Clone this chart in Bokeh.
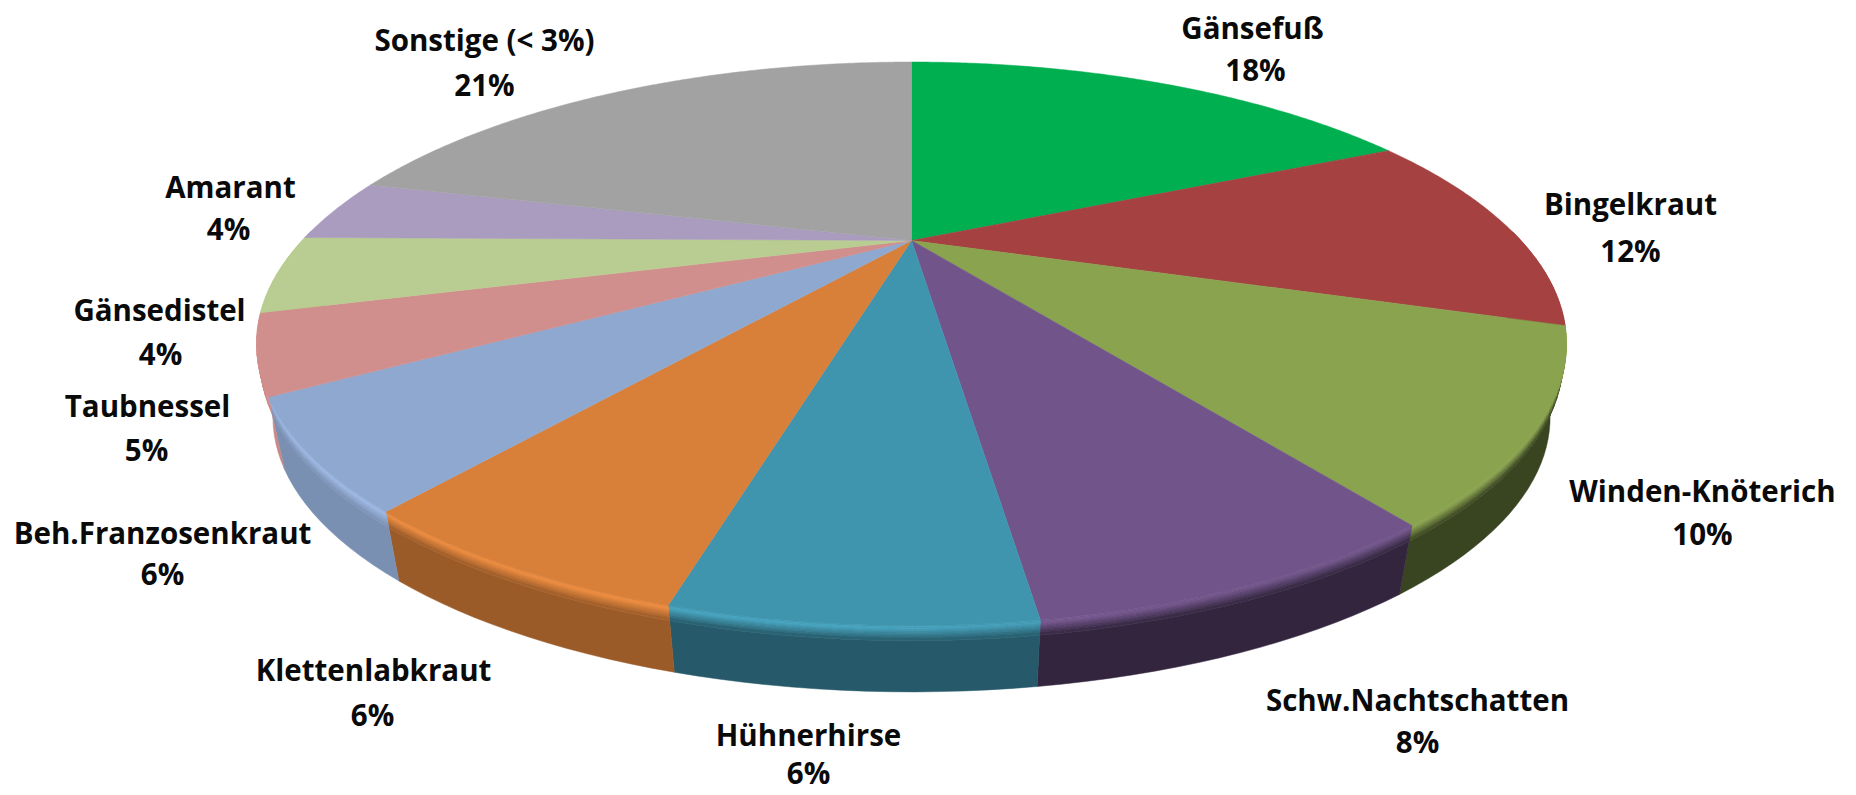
import numpy as np
from bokeh.core.properties import value
from bokeh.embed import file_html
from bokeh.models import ColumnDataSource, Range1d
from bokeh.plotting import figure
from bokeh.resources import INLINE

# ---- data (clockwise from 12 o'clock)
categories = ["Gänsefuß", "Bingelkraut", "Winden-Knöterich", "Schw.Nachtschatten", "Hühnerhirse",
              "Klettenlabkraut", "Beh.Franzosenkraut", "Taubnessel", "Gänsedistel", "Amarant", "Sonstige (< 3%)"]
percent = [18, 12, 10, 8, 6, 6, 6, 5, 4, 4, 21]          # as printed on the labels
share = [18.0, 12.0, 10.25, 7.6, 6.3, 6.35, 5.8, 4.4, 4.5, 3.8, 21.0]  # slice sizes

# ---- styles
colors = ["#00AF50", "#A54140", "#8AA34F", "#71548A", "#4095AE", "#D87F39",
          "#8FA8D0", "#D08E8C", "#B9CC91", "#A99CBF", "#A2A2A2"]
name_pos = [(1252, 27), (1630, 203), (1702, 490), (1417, 699), (808, 734), (373, 669),
            (162, 532), (147, 405), (159, 309), (230, 186), (484, 39)]
pct_pos = [(1255, 69), (1630, 250), (1702, 533), (1417, 741), (808, 772), (372, 714),
           (162, 573), (146, 449), (160, 353), (228, 228), (484, 84)]
FONT = "Open Sans"
FONT_SIZE = "29.5px"

# ---- perspective model of the disc, in page pixels
CX, CY = 911.0, 240.0
K = 0.3665
A = 243.9
B = 609.4
SCALE_LOW, SHIFT_LOW = 0.975, 76.0


def ring(theta, scale=1.0, shift=0.0):
    u, v = np.sin(theta), -np.cos(theta)
    d = 1 - K * v
    return CX + scale * B * u / d, CY + shift + scale * A * v / d


def shade_rgb(hex_color, f):
    c = np.array([int(hex_color[i:i + 2], 16) for i in (1, 3, 5)], dtype=float)
    c = np.clip(c * f, 0, 255).astype(int)
    return "#%02x%02x%02x" % tuple(c)


p = figure(width=1856, height=795, x_range=Range1d(0, 1856), y_range=Range1d(795, 0),
           toolbar_location=None, output_backend="svg", min_border=0,
           x_axis_location=None, y_axis_location=None, outline_line_color=None)
p.grid.visible = False

edges = np.cumsum([0] + share) / sum(share) * 2 * np.pi

# side wall: one solid body per slice, plus a finely shaded bevel just under the top edge
T_STOPS = np.array([0, .02, .04, .07, .10, .14, .18, .23])
side_x, side_y, side_c = [], [], []
body_x, body_y, body_c = [], [], []
for i, col in enumerate(colors):
    a0, a1 = edges[i], edges[i + 1]
    n = max(2, int((a1 - a0) / np.radians(1.5)))
    th = np.linspace(a0, a1, n + 1)
    mid = 0.5 * (a0 + a1)
    shade = float(np.interp(np.sin(mid), [-.95, -.75, -.45, -.05, .4, .8], [.98, .86, .72, .60, .44, .42]))
    vis = th[-np.cos(th) >= -0.05]
    if len(vis) < 2:
        continue
    xt, yt = ring(vis)
    xl, yl = ring(vis, SCALE_LOW, SHIFT_LOW)
    body_x.append(list(xt + (xl - xt) * T_STOPS[-1]) + list(xl[::-1]))
    body_y.append(list(yt + (yl - yt) * T_STOPS[-1]) + list(yl[::-1]))
    body_c.append(shade_rgb(col, shade))
    for j in range(len(vis) - 1):
        u = np.sin(0.5 * (vis[j] + vis[j + 1]))
        hl = float(np.interp(u, [-.8, -.05, .35], [1.10, 1.12, 1.0]))
        for b in range(len(T_STOPS) - 1):
            t0, t1 = T_STOPS[b], T_STOPS[b + 1]
            f = float(np.interp(0.5 * (t0 + t1), [0, .04, .23], [1.0, hl, shade]))
            side_x.append([xt[j] + (xl[j] - xt[j]) * t0, xt[j + 1] + (xl[j + 1] - xt[j + 1]) * t0,
                           xt[j + 1] + (xl[j + 1] - xt[j + 1]) * t1, xt[j] + (xl[j] - xt[j]) * t1])
            side_y.append([yt[j] + (yl[j] - yt[j]) * t0, yt[j + 1] + (yl[j + 1] - yt[j + 1]) * t0,
                           yt[j + 1] + (yl[j + 1] - yt[j + 1]) * t1, yt[j] + (yl[j] - yt[j]) * t1])
            side_c.append(shade_rgb(col, f))
p.patches(body_x, body_y, fill_color=body_c, line_color=body_c, line_width=0.5)
p.patches(side_x, side_y, fill_color=side_c, line_color=side_c, line_width=0.7)

# top face
xs, ys = [], []
for i in range(len(share)):
    th = np.linspace(edges[i], edges[i + 1], max(8, int((edges[i + 1] - edges[i]) / np.radians(0.5))))
    x, y = ring(th)
    xs.append([CX] + list(x))
    ys.append([CY] + list(y))
p.patches(xs, ys, fill_color=colors, line_color=colors, line_width=0.5)

# labels
src = ColumnDataSource(dict(
    nx=[q[0] for q in name_pos], ny=[q[1] for q in name_pos], name=categories,
    px=[q[0] for q in pct_pos], py=[q[1] for q in pct_pos], pct=[f"{v}%" for v in percent]))
for xk, yk, tk in (("nx", "ny", "name"), ("px", "py", "pct")):
    p.text(x=xk, y=yk, text=tk, source=src, text_font=value(FONT), text_font_style="bold",
           text_font_size=value(FONT_SIZE), text_color="#0a0a0a",
           text_align="center", text_baseline="middle")

open("out.html", "w").write(file_html(p, INLINE))
